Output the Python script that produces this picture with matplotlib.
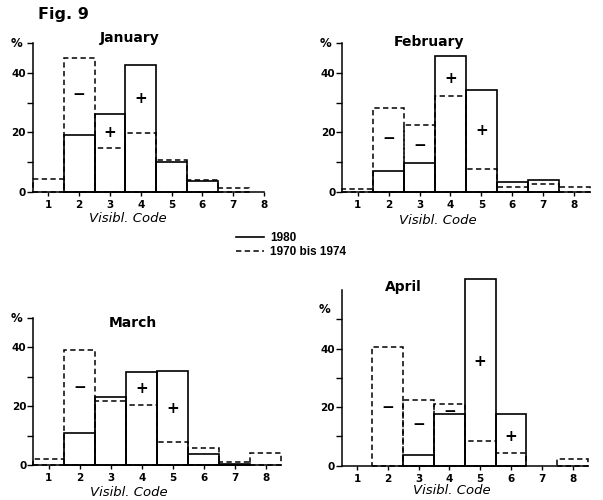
import matplotlib
matplotlib.use("Agg")
import matplotlib.pyplot as plt
from matplotlib.lines import Line2D

codes = [1, 2, 3, 4, 5, 6, 7, 8]

# percent per visibility code, 1980 and 1970-1974
jan_1980 = [0, 19.1, 26.1, 42.7, 9.9, 3.6, 0, 0]
jan_7074 = [4.2, 45.2, 14.7, 19.9, 10.6, 4.0, 1.4, 0]
feb_1980 = [0, 7.1, 9.8, 45.7, 34.3, 3.1, 4.0, 0]
feb_7074 = [0.9, 28.3, 22.4, 32.2, 7.8, 1.5, 2.7, 1.6]
mar_1980 = [0, 11.0, 23.1, 31.7, 32.1, 3.6, 0.3, 0]
mar_7074 = [1.9, 39.1, 21.9, 20.5, 7.7, 5.9, 1.0, 4.2]
apr_1980 = [0, 0, 3.5, 17.6, 63.6, 17.6, 0, 0]
apr_7074 = [0, 40.6, 22.5, 21.2, 8.6, 4.5, 0, 2.3]

# (code, height, sign)
jan_signs = [(2, 32.9, "−"), (3, 20.0, "+"), (4, 31.3, "+")]
feb_signs = [(2, 17.9, "−"), (3, 15.7, "−"), (4, 38.0, "+"), (5, 20.7, "+")]
mar_signs = [(2, 26.3, "−"), (4, 25.9, "+"), (5, 19.3, "+")]
apr_signs = [(2, 19.9, "−"), (3, 13.9, "−"), (4, 18.5, "−"), (5, 35.5, "+"), (6, 9.9, "+")]

W, H = 603, 500
plt.rcParams["font.family"] = ["DejaVu Sans"]

fig = plt.figure(figsize=(W / 100, H / 100), dpi=100)


def px(x0, y0, x1, y1):
    # pixel box -> figure fraction [left, bottom, width, height]
    return [x0 / W, 1 - y1 / H, (x1 - x0) / W, (y1 - y0) / H]


panels = [
    ("January", px(33, 43.3, 279.4, 191.7), 50, 8.0, jan_1980, jan_7074, jan_signs, (130, 38), (128, 218)),
    ("February", px(342.3, 43.3, 589.5, 191.7), 50, 8.5, feb_1980, feb_7074, feb_signs, (429, 42), (438, 221)),
    ("March", px(33.3, 318, 281.3, 465), 50, 8.5, mar_1980, mar_7074, mar_signs, (133, 323), (129, 492)),
    ("April", px(341.7, 290, 588, 465.7), 60, 8.5, apr_1980, apr_7074, apr_signs, (403, 287), (452, 490)),
]

dash = (0, (3.5, 2.2))

for title, box, ytop, xend, new, old, signs, tpos, lpos in panels:
    ax = fig.add_axes(box)
    ax.set_xlim(0.5, 8.5)
    ax.set_ylim(0, ytop)

    xs = [c for c, v in zip(codes, old) if v > 0]
    hs = [v for v in old if v > 0]
    ax.bar(xs, hs, width=1.0, fill=False, edgecolor="black", linewidth=1.1,
           linestyle=dash, clip_on=False, zorder=2)
    xs = [c for c, v in zip(codes, new) if v > 0]
    hs = [v for v in new if v > 0]
    ax.bar(xs, hs, width=1.0, fill=False, edgecolor="black", linewidth=1.2,
           clip_on=False, zorder=3)

    for c, y, s in signs:
        ax.text(c, y, s, ha="center", va="center", fontsize=11, fontweight="bold")

    for side in ("top", "right"):
        ax.spines[side].set_visible(False)
    ax.spines["left"].set_bounds(0, ytop)
    ax.spines["bottom"].set_bounds(0.5, xend)
    for side in ("left", "bottom"):
        ax.spines[side].set_linewidth(1.1)

    ax.set_xticks(codes)
    ax.set_xticklabels([str(c) for c in codes], fontsize=7.5, fontweight="bold")
    yt = [0, 10, 20, 30, 40, 50]
    ax.set_yticks(yt)
    ax.set_yticklabels(["0", "", "20", "", "40", ""], fontsize=7.5, fontweight="bold")
    pct_y = 50 if ytop == 50 else 53.5
    ax.text(-0.045, pct_y, "%", transform=ax.get_yaxis_transform(), ha="right",
            va="center", fontsize=8.5, fontweight="bold")
    ax.tick_params(axis="x", length=3, width=1, pad=3)
    ax.tick_params(axis="y", length=4, width=1, pad=1)

    fig.text(tpos[0] / W, 1 - tpos[1] / H, title, ha="center", va="center",
             fontsize=10, fontweight="bold")
    fig.text(lpos[0] / W, 1 - lpos[1] / H, "Visibl. Code", ha="center", va="center",
             fontsize=9.5, style="italic")

fig.text(38 / W, 1 - 14 / H, "Fig. 9", ha="left", va="center", fontsize=11.5,
         fontweight="bold")

handles = [Line2D([], [], color="black", linewidth=1.2),
           Line2D([], [], color="black", linewidth=1.1, linestyle=dash)]
fig.legend(handles, ["1980", "1970 bis 1974"], loc="upper left",
           bbox_to_anchor=(236 / W, 1 - 232 / H), frameon=False, borderpad=0,
           borderaxespad=0, handlelength=2.4, handletextpad=0.5, labelspacing=0.2,
           prop={"family": "Liberation Sans", "size": 8.5, "weight": "bold"})

fig.savefig("out.png", dpi=100)
